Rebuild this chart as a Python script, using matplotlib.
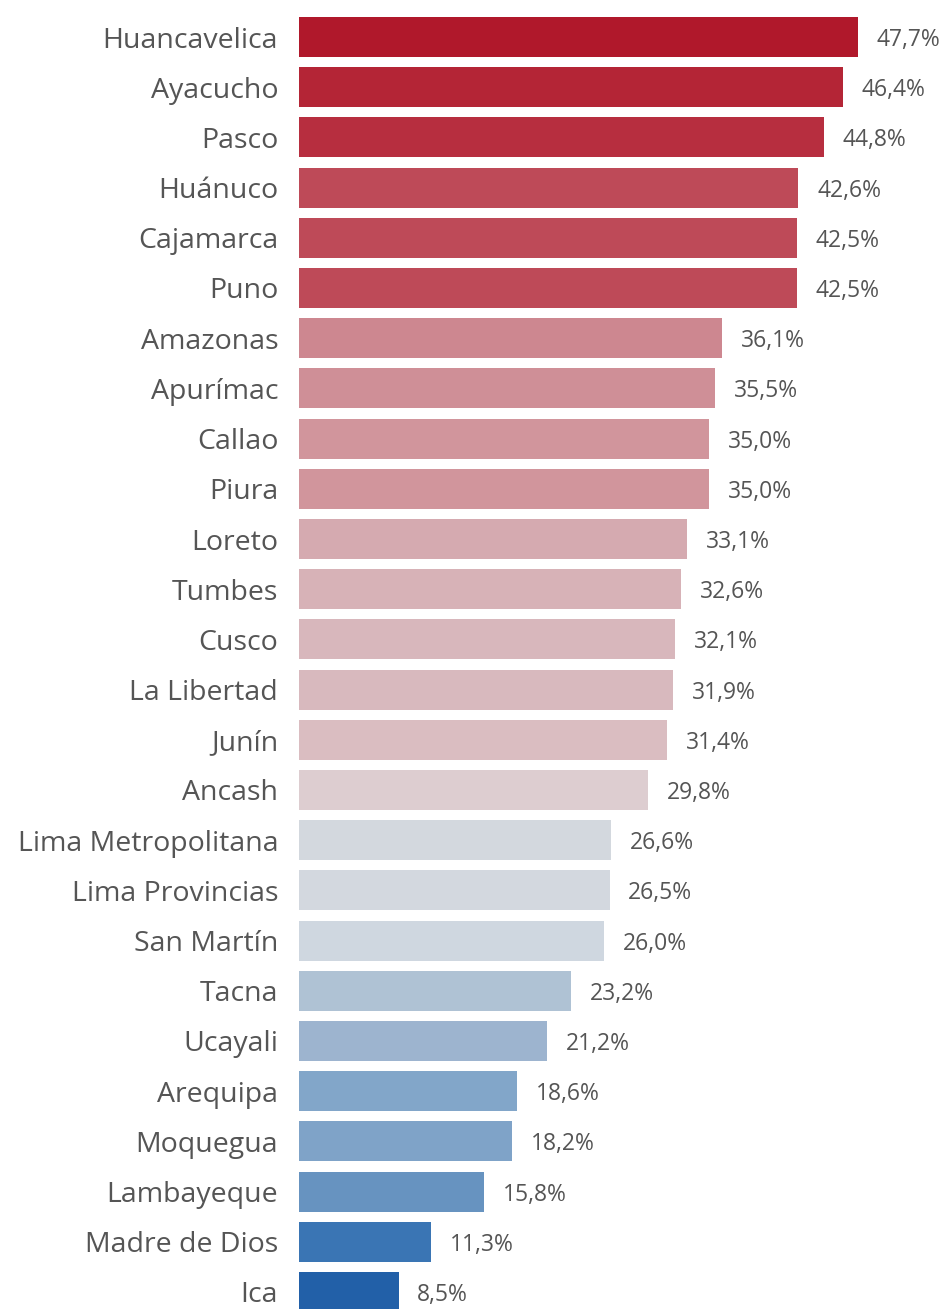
import matplotlib
matplotlib.use("Agg")
import matplotlib.pyplot as plt

regions = ["Huancavelica", "Ayacucho", "Pasco", "Huánuco", "Cajamarca", "Puno",
           "Amazonas", "Apurímac", "Callao", "Piura", "Loreto", "Tumbes", "Cusco",
           "La Libertad", "Junín", "Ancash", "Lima Metropolitana", "Lima Provincias",
           "San Martín", "Tacna", "Ucayali", "Arequipa", "Moquegua", "Lambayeque",
           "Madre de Dios", "Ica"]
values = [47.7, 46.4, 44.8, 42.6, 42.5, 42.5, 36.1, 35.5, 35.0, 35.0, 33.1, 32.6, 32.1,
          31.9, 31.4, 29.8, 26.6, 26.5, 26.0, 23.2, 21.2, 18.6, 18.2, 15.8, 11.3, 8.5]
colors = ["#B0182B", "#B42536", "#B72E3F", "#BE4A58", "#BE4A58", "#BE4A58",
          "#CD8790", "#CF8F97", "#D1959C", "#D1959C", "#D5AAB0", "#D7B2B7", "#D8B7BC",
          "#D8B9BE", "#DABDC1", "#DDCDD0", "#D3D8DE", "#D3D8DF", "#CFD7E0", "#AFC2D4",
          "#9DB4CF", "#82A6C9", "#7FA3C8", "#6793C0", "#3A75B4", "#2260A8"]

W, H = 949, 1309
fig = plt.figure(figsize=(W / 100, H / 100), dpi=100)
ax = fig.add_axes([299 / W, 0, 1 - 299 / W, 1])

pos = list(range(len(regions)))
ax.barh(pos, values, height=0.8, color=colors)
ax.set_xlim(0, 650 / 11.72)
ax.set_ylim(25 + 17 / 50.2, -37 / 50.2)
ax.set_yticks(pos)
ax.set_yticklabels(regions, fontsize=20.5, color="#555555", family="Open Sans")
ax.tick_params(axis="y", length=0, pad=15)
ax.set_xticks([])
for s in ax.spines.values():
    s.set_visible(False)

for p, v in zip(pos, values):
    ax.text(v + 1.6, p + 0.06, f"{v:.1f}%".replace(".", ","), va="center", ha="left",
            fontsize=16.5, color="#555555", family="Open Sans")

fig.savefig("out.png", dpi=100)
